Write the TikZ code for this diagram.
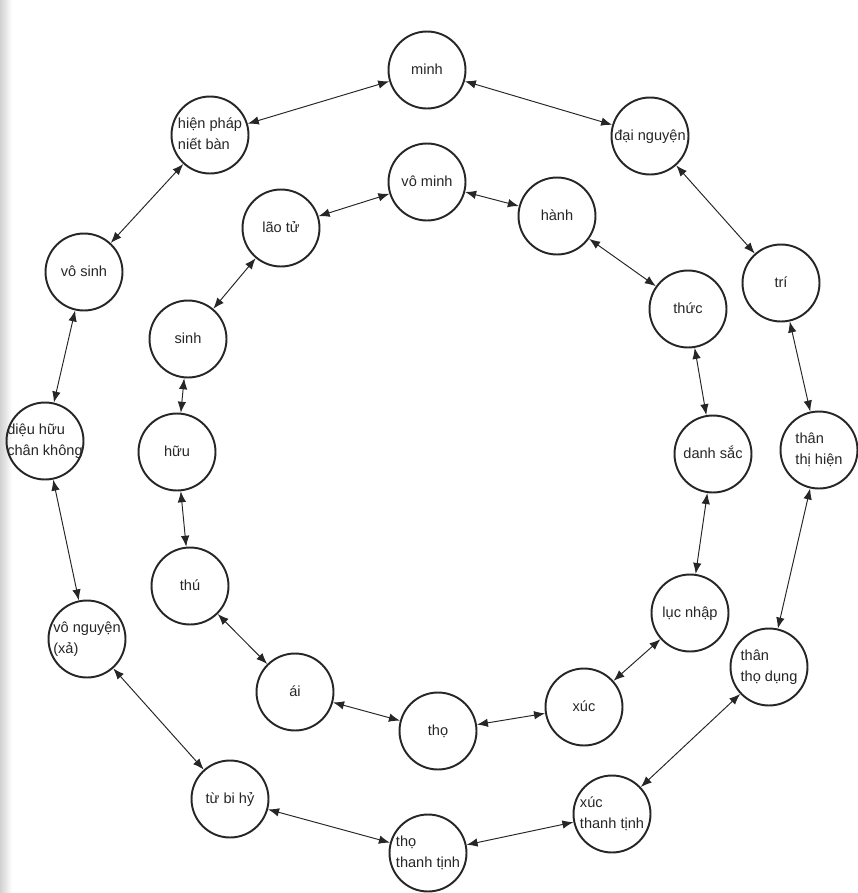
\documentclass[tikz,border=0pt]{standalone}
\usepackage{fontspec}
\setmainfont{Liberation Sans}
\usepackage{tikz}
\usetikzlibrary{arrows.meta}

\newcommand{\ringtext}[1]{\makebox[0pt]{\begin{tabular}{@{}l@{}}#1\end{tabular}}}

\begin{document}
\begin{tikzpicture}[
  x=0.02cm, y=-0.02cm,
  stage/.style={circle, draw=black!85, line width=1.1pt, minimum size=1.54cm, inner sep=0pt,
    text=black!85, font=\fontsize{8.3}{11.5}\selectfont},
  arr/.style={{Latex[length=2.2mm,width=1.7mm]}-{Latex[length=2.2mm,width=1.7mm]}, line width=0.55pt, black!85}
]
  \useasboundingbox (0,0) rectangle (858,893);
  \shade[left color=black!18, right color=white] (0,0) rectangle (12,893);

  % outer ring
  \node[stage] (minh)      at (427,70)  {\ringtext{minh}};
  \node[stage] (dainguyen) at (650,136) {\ringtext{đại nguyện}};
  \node[stage] (tri)       at (781,283) {\ringtext{trí}};
  \node[stage] (thihien)   at (819,450) {\ringtext{thân\\thị hiện}};
  \node[stage] (thodung)   at (769,667) {\ringtext{thân\\thọ dụng}};
  \node[stage] (xuctt)     at (612,814) {\ringtext{xúc\\thanh tịnh}};
  \node[stage] (thott)     at (428,853) {\ringtext{thọ\\thanh tịnh}};
  \node[stage] (tubihy)    at (230,799) {\ringtext{từ bi hỷ}};
  \node[stage] (vonguyen)  at (87,639)  {\ringtext{vô nguyện\\(xả)}};
  \node[stage] (dieuhuu)   at (45,441)  {\ringtext{diệu hữu\\chân không}};
  \node[stage] (vosinh)    at (84,272)  {\ringtext{vô sinh}};
  \node[stage] (hienphap)  at (210,135) {\ringtext{hiện pháp\\niết bàn}};

  % inner ring
  \node[stage] (vominh)  at (427,182) {\ringtext{vô minh}};
  \node[stage] (hanh)    at (557,216) {\ringtext{hành}};
  \node[stage] (thuc)    at (688,309) {\ringtext{thức}};
  \node[stage] (danhsac) at (713,454) {\ringtext{danh sắc}};
  \node[stage] (lucnhap) at (690,613) {\ringtext{lục nhập}};
  \node[stage] (xuc)     at (584,707) {\ringtext{xúc}};
  \node[stage] (tho)     at (438,731) {\ringtext{thọ}};
  \node[stage] (ai)      at (295,692) {\ringtext{ái}};
  \node[stage] (thu)     at (190,586) {\ringtext{thú}};
  \node[stage] (huu)     at (177,452) {\ringtext{hữu}};
  \node[stage] (sinh)    at (188,339) {\ringtext{sinh}};
  \node[stage] (laotu)   at (281,228) {\ringtext{lão tử}};

  \draw[arr] (minh) -- (dainguyen);
  \draw[arr] (dainguyen) -- (tri);
  \draw[arr] (tri) -- (thihien);
  \draw[arr] (thihien) -- (thodung);
  \draw[arr] (thodung) -- (xuctt);
  \draw[arr] (xuctt) -- (thott);
  \draw[arr] (thott) -- (tubihy);
  \draw[arr] (tubihy) -- (vonguyen);
  \draw[arr] (vonguyen) -- (dieuhuu);
  \draw[arr] (dieuhuu) -- (vosinh);
  \draw[arr] (vosinh) -- (hienphap);
  \draw[arr] (hienphap) -- (minh);

  \draw[arr] (vominh) -- (hanh);
  \draw[arr] (hanh) -- (thuc);
  \draw[arr] (thuc) -- (danhsac);
  \draw[arr] (danhsac) -- (lucnhap);
  \draw[arr] (lucnhap) -- (xuc);
  \draw[arr] (xuc) -- (tho);
  \draw[arr] (tho) -- (ai);
  \draw[arr] (ai) -- (thu);
  \draw[arr] (thu) -- (huu);
  \draw[arr] (huu) -- (sinh);
  \draw[arr] (sinh) -- (laotu);
  \draw[arr] (laotu) -- (vominh);
\end{tikzpicture}
\end{document}
